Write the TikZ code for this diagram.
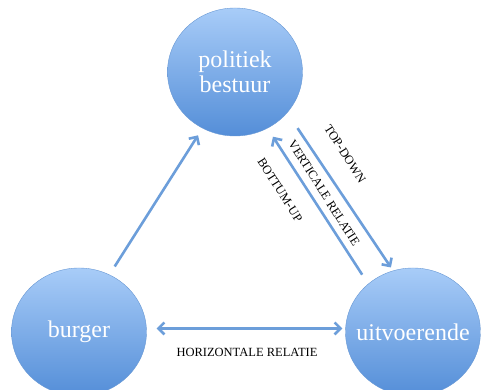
\documentclass[tikz,border=0pt]{standalone}
\usepackage{fontspec}
\setmainfont{Liberation Serif}
\usetikzlibrary{shapes.geometric,arrows.meta}
\definecolor{bolboven}{RGB}{168,204,248}
\definecolor{bolonder}{RGB}{84,142,216}
\definecolor{bolrand}{RGB}{104,152,212}
\definecolor{pijlkleur}{RGB}{108,158,218}
\begin{document}
\begin{tikzpicture}[x=1pt,y=1pt,
  >={Straight Barb[length=6pt,width=12pt]},
  bol/.style={draw=bolrand, thin, ellipse, minimum width=135pt, minimum height=128pt,
    inner xsep=-25pt, inner ysep=0pt, top color=bolboven, bottom color=bolonder,
    text=white, align=center, font=\fontsize{24}{25}\selectfont},
  pijl/.style={draw=pijlkleur, line width=2.6pt},
  relatie/.style={font=\fontsize{12.5}{13}\selectfont, inner sep=0pt}]
\useasboundingbox (0,0) rectangle (483,390);

\node[bol] (politiek) at (235,318) {politiek\\bestuur};
\node[bol] (burger) at (79,58) {burger};
\node[bol] (uitvoerende) at (413,58) {uitvoerende};

\path[pijl,->,shorten <=9.7pt,shorten >=8.3pt] (burger.62) -- (politiek.-120);
\path[pijl,->,shorten <=18.5pt,shorten >=3.8pt] (politiek.-38) -- (uitvoerende.108);
\path[pijl,->,shorten <=11pt,shorten >=10pt] (uitvoerende.133) -- (politiek.-60);
\path[pijl,<->,shorten <=10pt,shorten >=3pt] (burger.3) -- (uitvoerende.177);

\node[relatie, rotate=-57.6] (topdown) at (345,236) {TOP-DOWN};
\node[relatie, rotate=-57.6] (verticaal) at (324,197) {VERTICALE RELATIE};
\node[relatie, rotate=-57.6] (bottumup) at (280,200) {BOTTUM-UP};
\node[relatie] (horizontaal) at (247,38) {HORIZONTALE RELATIE};
\end{tikzpicture}
\end{document}
